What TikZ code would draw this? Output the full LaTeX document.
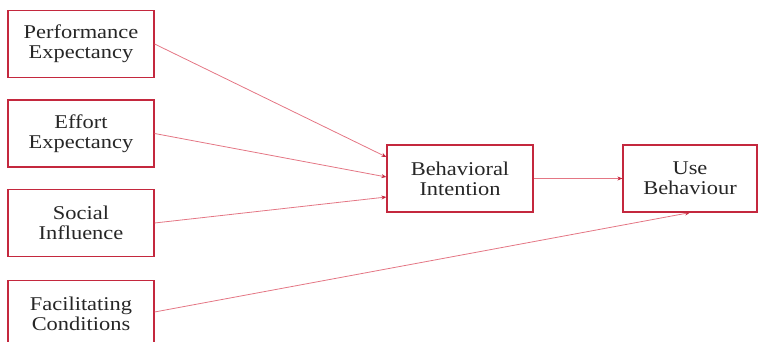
\documentclass[tikz,border=0pt]{standalone}
\usepackage{fontspec}
\setmainfont{Liberation Serif}[FakeStretch=1.15]
\usepackage{tikz}
\usetikzlibrary{arrows.meta,calc}
\definecolor{UTAUTred}{RGB}{196, 40, 62}
\definecolor{UTAUTpink}{RGB}{228, 118, 132}
\definecolor{UTAUTtext}{RGB}{38, 38, 38}

\begin{document}
\begin{tikzpicture}[x=1pt,y=-1pt,
    varbox/.style={draw=UTAUTred,line width=1.2pt,minimum width=146pt,minimum height=67pt,
      align=center,text=UTAUTtext,font=\fontsize{19.5}{20}\selectfont,inner sep=0pt},
    pathway/.style={draw=UTAUTpink,line width=0.8pt,-{Stealth[length=5pt,width=4pt,UTAUTred]}}]
                \useasboundingbox (0,0) rectangle (760,342);
                \clip (0,0) rectangle (760,342);
                \node[varbox] (pe) at (81,44){Performance\\Expectancy};
                \node[varbox] (ee) at (81,133.5){Effort\\Expectancy};
                \node[varbox] (si) at (81,223){Social\\Influence};
                \node[varbox] (fc) at (81,314){Facilitating\\Conditions};
                \node[varbox] (bi) at (460,178.5){Behavioral\\Intention};
                \node[varbox,minimum width=134pt] (ub) at (690,178.5){Use\\Behaviour};
                \draw[pathway] (pe.east) -- ($(bi.west)+(0,-21.5)$);
                \draw[pathway] (ee.east) -- ($(bi.west)+(0,-1.5)$);
                \draw[pathway] (si.east) -- ($(bi.west)+(0,18.5)$);
                \draw[pathway] ($(fc.east)+(0,-2)$) -- (ub.south);
                \draw[pathway] (bi.east) -- (ub.west);
            \end{tikzpicture}
\end{document}
